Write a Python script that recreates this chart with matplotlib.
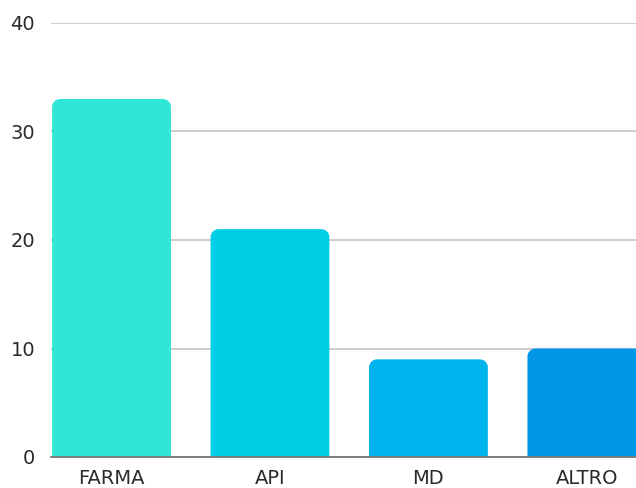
import matplotlib
matplotlib.use("Agg")
import matplotlib.pyplot as plt
from matplotlib.path import Path
from matplotlib.patches import PathPatch

categories = ["FARMA", "API", "MD", "ALTRO"]
values = [33, 21, 9, 10]
colors = ["#30E6D6", "#00CFE6", "#00B3EC", "#0096E8"]
yticks = [0, 10, 20, 30, 40]

plt.rcParams['font.family'] = ['DejaVu Sans']

W, H = 636, 488
fig = plt.figure(figsize=(W / 100, H / 100), dpi=100)
ax = fig.add_axes([51 / W, (488 - 457) / H, (636 - 51) / W, (457 - 23) / H])

xs = list(range(len(categories)))
bars = ax.bar(xs, values, width=0.75, color=colors, zorder=3)
ax.set_xlim(-0.382, 3.31)
ax.set_ylim(0, 40)

# rounded top corners
r_px = 8
fig.canvas.draw()
x_per_px = (ax.get_xlim()[1] - ax.get_xlim()[0]) / (ax.bbox.width)
y_per_px = (ax.get_ylim()[1] - ax.get_ylim()[0]) / (ax.bbox.height)
rx, ry = r_px * x_per_px, r_px * y_per_px
k = 0.5523
for b in bars:
    x0, w, h = b.get_x(), b.get_width(), b.get_height()
    x1 = x0 + w
    c = b.get_facecolor()
    b.remove()
    verts = [
        (x0, 0), (x0, h - ry),
        (x0, h - ry + k * ry), (x0 + rx - k * rx, h), (x0 + rx, h),
        (x1 - rx, h),
        (x1 - rx + k * rx, h), (x1, h - ry + k * ry), (x1, h - ry),
        (x1, 0), (x0, 0),
    ]
    codes = [Path.MOVETO, Path.LINETO,
             Path.CURVE4, Path.CURVE4, Path.CURVE4,
             Path.LINETO,
             Path.CURVE4, Path.CURVE4, Path.CURVE4,
             Path.LINETO, Path.CLOSEPOLY]
    ax.add_patch(PathPatch(Path(verts, codes), facecolor=c, edgecolor='none', zorder=3))

ax.set_yticks(yticks)
ax.set_xticks(xs)
ax.set_xticklabels(categories)
ax.yaxis.grid(True, color="#c8c8c8", linewidth=1.3, zorder=0)
ax.set_axisbelow(True)
for s in ["top", "right", "left"]:
    ax.spines[s].set_visible(False)
ax.spines["bottom"].set_color("#777777")
ax.spines["bottom"].set_linewidth(1.3)
ax.spines["bottom"].set_zorder(4)
ax.tick_params(axis="both", length=0, labelsize=14, labelcolor="#2a2a2a")
ax.tick_params(axis="x", pad=9)
ax.tick_params(axis="y", pad=11.5)

fig.savefig("out.png", dpi=100)
